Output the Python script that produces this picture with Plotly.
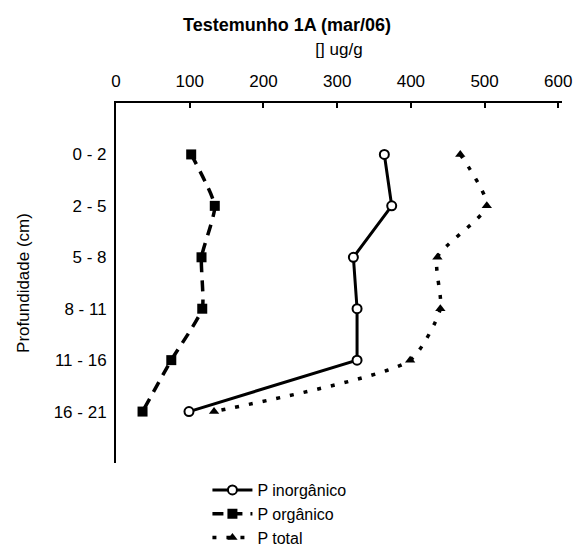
import plotly.graph_objects as go

depths = ["0 - 2", "2 - 5", "5 - 8", "8 - 11", "11 - 16", "16 - 21"]
p_inorganico = [364, 374, 322, 327, 327, 99]
p_organico = [102, 134, 116, 117, 75, 36]
p_total = [467, 503, 436, 440, 399, 133]
x_ticks = [0, 100, 200, 300, 400, 500, 600]

FONT = "Liberation Sans, Arial, sans-serif"

W, H = 574, 546
TOP, BOTTOM_PX = 103, 463
plot_h = BOTTOM_PX - TOP

fig = go.Figure()
fig.add_trace(go.Scatter(
    x=p_inorganico, y=depths, name="P inorgânico", mode="lines+markers",
    line=dict(color="black", width=3),
    marker=dict(symbol="circle", size=9, color="white", line=dict(color="black", width=2)),
))
fig.add_trace(go.Scatter(
    x=p_organico, y=depths, name="P orgânico", mode="lines+markers",
    line=dict(color="black", width=3.5, dash="11px,8px", shape="spline", smoothing=0.5),
    marker=dict(symbol="square", size=10, color="black"),
))
fig.add_trace(go.Scatter(
    x=p_total, y=depths, name="P total", mode="lines+markers",
    line=dict(color="black", width=3.5, dash="4px,10px", shape="spline", smoothing=0.6),
    marker=dict(symbol="triangle-up", size=9, color="black"),
))

fig.update_layout(
    width=W, height=H,
    margin=dict(l=116, r=12, t=TOP, b=H - BOTTOM_PX, autoexpand=False),
    paper_bgcolor="white", plot_bgcolor="white",
    font=dict(family=FONT, size=17, color="black"),
    title=dict(text="<b>Testemunho 1A (mar/06)</b>", x=0.5, xanchor="center",
               y=1 - 25 / H, yanchor="middle", font=dict(size=18)),
    showlegend=True,
    legend=dict(x=0.205, xanchor="left", y=-(473 - BOTTOM_PX) / plot_h, yanchor="top",
                font=dict(size=16), bgcolor="rgba(0,0,0,0)", itemwidth=40),
    xaxis=dict(
        side="top", range=[0, 605], tickvals=x_ticks,
        showline=True, linecolor="black", linewidth=2,
        ticks="inside", ticklen=5, tickcolor="black", tickwidth=1.5,
        ticklabelstandoff=7, ticklabeloverflow="allow",
        showgrid=False, zeroline=False,
        title=dict(text="[] ug/g", standoff=12, font=dict(size=17)),
        tickfont=dict(size=17),
    ),
    yaxis=dict(
        categoryorder="array", categoryarray=depths,
        range=[6, -1],
        showline=True, linecolor="black", linewidth=2,
        ticks="", showgrid=False, zeroline=False,
        ticklabelstandoff=4,
        title=dict(text="Profundidade (cm)", standoff=20, font=dict(size=17)),
        tickfont=dict(size=17),
    ),
)

fig.write_html("out.html")
